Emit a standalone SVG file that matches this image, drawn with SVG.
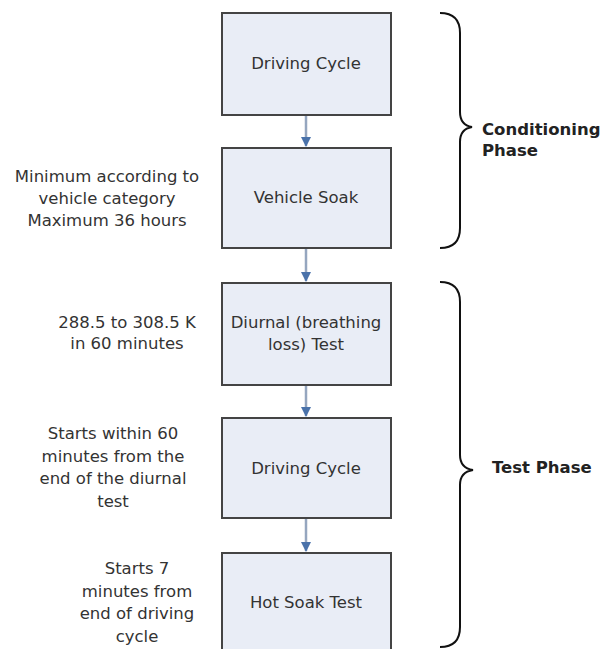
<svg xmlns="http://www.w3.org/2000/svg" width="608" height="649" viewBox="0 0 608 649">
<defs>
<style>
.box{fill:#e9edf6;stroke:#444;stroke-width:2}
.t{font-family:"DejaVu Sans","Liberation Sans",sans-serif;font-size:16.5px;fill:#333;text-anchor:middle}
.lt{font-family:"DejaVu Sans","Liberation Sans",sans-serif;font-size:16.5px;fill:#333;text-anchor:middle}
.ph{font-family:"DejaVu Sans","Liberation Sans",sans-serif;font-size:16.5px;font-weight:bold;fill:#222}
.conn{stroke:#95a6bf;stroke-width:2.5;fill:none}
.brace{stroke:#111;stroke-width:2;fill:none}
</style>
<marker id="ah" viewBox="0 0 10 10" refX="9" refY="5" markerWidth="4" markerHeight="4" orient="auto" markerUnits="strokeWidth">
<path d="M0,0 L10,5 L0,10 z" fill="#4a72aa"/>
</marker>
</defs>
<rect width="608" height="649" fill="#fff"/>
<g id="connectors">
<line class="conn" x1="306" y1="116" x2="306" y2="146" marker-end="url(#ah)"/>
<line class="conn" x1="306" y1="249" x2="306" y2="281" marker-end="url(#ah)"/>
<line class="conn" x1="306" y1="386" x2="306" y2="416" marker-end="url(#ah)"/>
<line class="conn" x1="306" y1="519" x2="306" y2="551" marker-end="url(#ah)"/>
</g>
<g id="n1"><rect class="box" x="222" y="13" width="169" height="102"/><text class="t" x="306" y="69">Driving Cycle</text></g>
<g id="n2"><rect class="box" x="222" y="148" width="169" height="100"/><text class="t" x="306" y="203">Vehicle Soak</text></g>
<g id="n3"><rect class="box" x="222" y="283" width="169" height="102"/><text class="t" x="306" y="328">Diurnal (breathing</text><text class="t" x="306" y="350">loss) Test</text></g>
<g id="n4"><rect class="box" x="222" y="418" width="169" height="100"/><text class="t" x="306" y="474">Driving Cycle</text></g>
<g id="n5"><rect class="box" x="222" y="553" width="169" height="104"/><text class="t" x="306" y="608">Hot Soak Test</text></g>
<g id="notes">
<text class="lt" x="107" y="182">Minimum according to</text>
<text class="lt" x="107" y="204">vehicle category</text>
<text class="lt" x="107" y="226">Maximum 36 hours</text>
<text class="lt" x="127" y="328">288.5 to 308.5 K</text>
<text class="lt" x="127" y="349">in 60 minutes</text>
<text class="lt" x="113" y="439">Starts within 60</text>
<text class="lt" x="113" y="462">minutes from the</text>
<text class="lt" x="113" y="484">end of the diurnal</text>
<text class="lt" x="113" y="507">test</text>
<text class="lt" x="137" y="574">Starts 7</text>
<text class="lt" x="137" y="597">minutes from</text>
<text class="lt" x="137" y="619">end of driving</text>
<text class="lt" x="137" y="642">cycle</text>
</g>
<g id="conditioning-phase">
<path class="brace" d="M440,13 Q460,13 460,33 L460,112 Q460,125 472,127 Q460,129 460,142 L460,228 Q460,248 440,248"/>
<text class="ph" x="482" y="135">Conditioning</text>
<text class="ph" x="482" y="156">Phase</text>
</g>
<g id="test-phase">
<path class="brace" d="M440,282 Q460,282 460,302 L460,455 Q460,468 473,470 Q460,472 460,485 L460,627 Q460,647 440,647"/>
<text class="ph" x="492" y="473">Test Phase</text>
</g>
</svg>
